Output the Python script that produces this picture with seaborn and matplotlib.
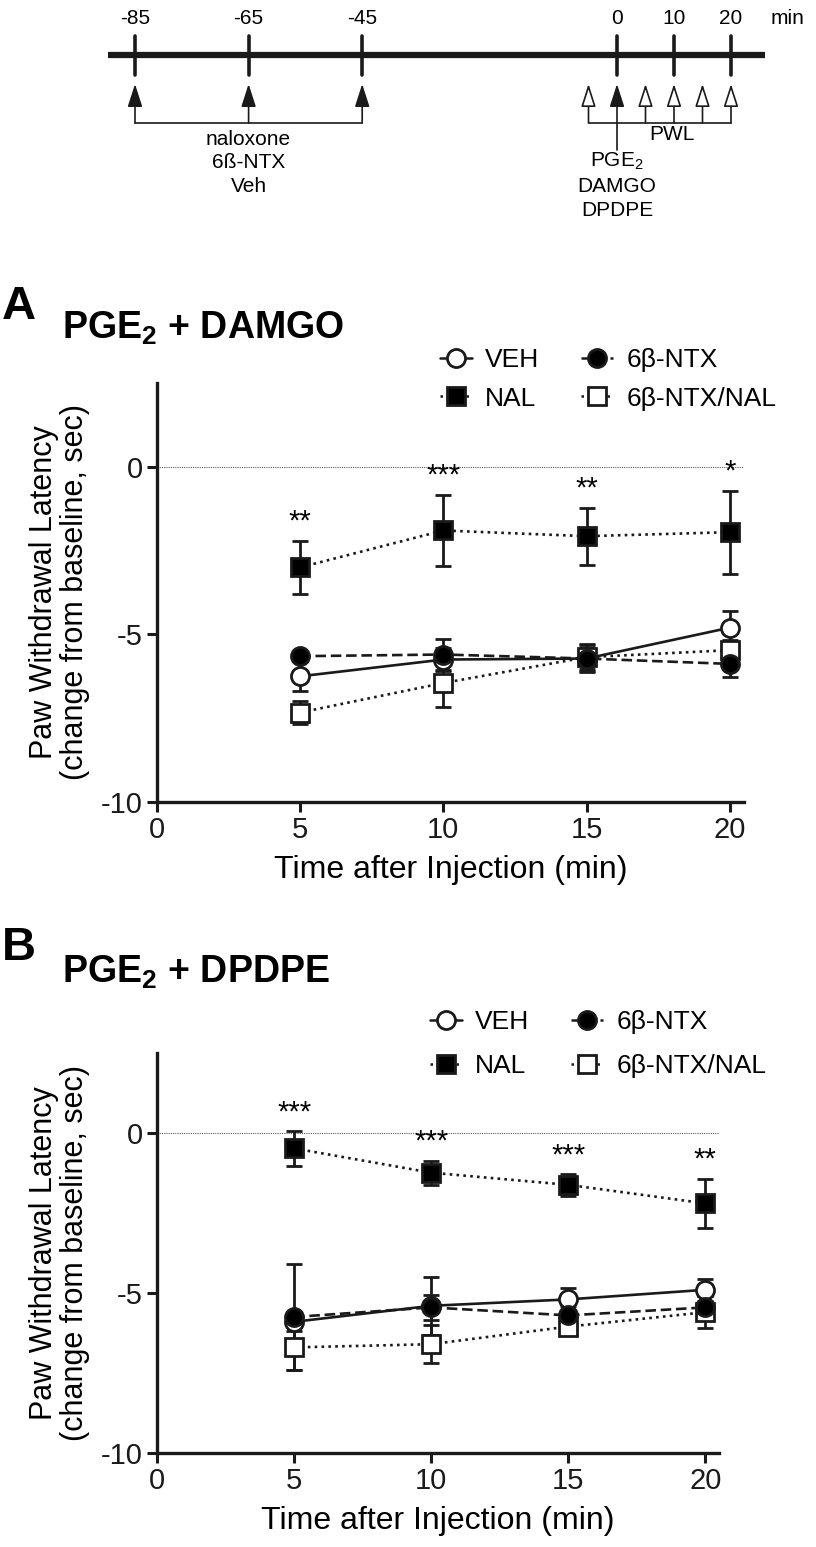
import numpy as np
import pandas as pd
import matplotlib
matplotlib.use('Agg')
import matplotlib.pyplot as plt
from matplotlib.lines import Line2D
import seaborn as sns

# ---- data -------------------------------------------------------------
times = [5, 10, 15, 20]

# panel A: PGE2 + DAMGO
a_veh = [-6.25, -5.75, -5.72, -4.80]
a_veh_err = [0.45, 0.35, 0.30, 0.50]
a_nal = [-3.00, -1.90, -2.07, -1.95]
a_nal_err = [0.80, 1.06, 0.85, 1.24]
a_ntx = [-5.65, -5.60, -5.72, -5.88]
a_ntx_err = [0.15, 0.45, 0.40, 0.40]
a_ntxnal = [-7.33, -6.45, -5.68, -5.47]
a_ntxnal_err = [0.35, 0.72, 0.40, 0.30]
a_stars = ['**', '***', '**', '*']

# panel B: PGE2 + DPDPE
b_veh = [-5.90, -5.40, -5.20, -4.90]
b_veh_err = [0.30, 0.90, 0.35, 0.35]
b_nal = [-0.48, -1.24, -1.62, -2.20]
b_nal_err = [0.54, 0.38, 0.34, 0.77]
b_ntx = [-5.75, -5.45, -5.70, -5.45]
b_ntx_err = [1.65, 0.40, 0.30, 0.35]
b_ntxnal = [-6.70, -6.60, -6.05, -5.60]
b_ntxnal_err = [0.70, 0.60, 0.25, 0.50]
b_stars = ['***', '***', '***', '**']

labels = ['VEH', 'NAL', '6β-NTX', '6β-NTX/NAL']
draw_order = ['VEH', '6β-NTX/NAL', '6β-NTX', 'NAL']

# timeline schematic
tl_marks = [-85, -65, -45, 0, 10, 20]
pre_arrows = [-85, -65, -45]
pwl_arrows = [-5, 5, 10, 15, 20]

# ---- style ------------------------------------------------------------
sns.set_theme(style='ticks')
plt.rcParams['font.family'] = ['Liberation Sans', 'DejaVu Sans']
plt.rcParams['mathtext.fontset'] = 'custom'
plt.rcParams['mathtext.rm'] = 'Liberation Sans'
plt.rcParams['mathtext.bf'] = 'Liberation Sans:bold'
plt.rcParams['text.color'] = 'black'
plt.rcParams['axes.labelcolor'] = 'black'

DOT = (0, (1, 1.6))
DASH = (0, (4, 1.8))
styles = {
    'VEH': dict(linestyle='-', marker='o', mfc='white'),
    'NAL': dict(linestyle=DOT, marker='s', mfc='black'),
    '6β-NTX': dict(linestyle=DASH, marker='o', mfc='black'),
    '6β-NTX/NAL': dict(linestyle=DOT, marker='s', mfc='white'),
}

W, H = 816, 1547
fig = plt.figure(figsize=(W / 100, H / 100), dpi=100)


def fx(px):
    return px / W


def fy(py):
    return 1 - py / H


# ---- timeline ---------------------------------------------------------
ax_t = fig.add_axes([0, fy(225), 1, 225 / H])
ax_t.set_xlim(0, W)
ax_t.set_ylim(225, 0)
ax_t.axis('off')


def tpos(t):
    return 135 + (t + 85) * 5.68 if t <= -45 else 617 + t * 5.7


ax_t.plot([108, 765], [55, 55], color='k', lw=4.5, solid_capstyle='butt')
for t in tl_marks:
    ax_t.plot([tpos(t), tpos(t)], [36, 75], color='k', lw=2.6)
    ax_t.text(tpos(t), 18, str(t), ha='center', va='center', fontsize=15)
ax_t.text(787, 18, 'min', ha='center', va='center', fontsize=15)


def up_arrow(x, y0, filled):
    ax_t.annotate('', xy=(x, 84), xytext=(x, y0),
                  arrowprops=dict(arrowstyle='-|>,head_length=1.4,head_width=0.45',
                                  fc='k' if filled else 'white', ec='k', lw=1.2,
                                  mutation_scale=10, shrinkA=0, shrinkB=0))


for t in pre_arrows:
    up_arrow(tpos(t), 123, True)
ax_t.plot([tpos(-85), tpos(-45)], [123, 123], color='k', lw=1.2)
for t in pwl_arrows:
    up_arrow(tpos(t), 123, False)
ax_t.plot([tpos(-5), tpos(20)], [123, 123], color='k', lw=1.2)
up_arrow(tpos(0), 150, True)

ax_t.text(tpos(-65), 130, 'naloxone\n6ß-NTX\nVeh', ha='center', va='top',
          fontsize=15, linespacing=1.3)
ax_t.text(tpos(10) - 2, 125, 'PWL', ha='center', va='top', fontsize=15)
ax_t.text(tpos(0), 150, 'PGE$_2$', ha='center', va='top', fontsize=15)
ax_t.text(tpos(0), 177, 'DAMGO\nDPDPE', ha='center', va='top', fontsize=15,
          linespacing=1.3)


# ---- panels -----------------------------------------------------------
def panel(ax, series, stars):
    ax.axhline(0, color='0.35', lw=0.8, ls=(0, (1, 1)), zorder=1)
    for name in draw_order:
        mean, err = series[name]
        ax.errorbar(times, mean, yerr=err, fmt='none', ecolor='k',
                    elinewidth=2, capsize=6, capthick=2, zorder=2)
    for name in draw_order:
        mean, err = series[name]
        st = styles[name]
        sns.lineplot(x=times, y=mean, ax=ax, color='k', lw=1.9,
                     linestyle=st['linestyle'], marker=st['marker'],
                     markersize=13, mfc=st['mfc'], mec='k', mew=2, zorder=3)
    nal, nal_err = series['NAL']
    for t, m, e, s in zip(times, nal, nal_err, stars):
        ax.text(t, m + e + 0.15, s, ha='center', va='bottom', fontsize=21)

    ax.set_xlim(0, 20.5)
    ax.set_ylim(-10, 2.5)
    ax.set_xticks([0, 5, 10, 15, 20])
    ax.set_yticks([-10, -5, 0])
    ax.set_yticklabels(['-10', '-5', '0'])
    for s in ['top', 'right']:
        ax.spines[s].set_visible(False)
    for s in ['left', 'bottom']:
        ax.spines[s].set_linewidth(2.4)
        ax.spines[s].set_color('k')
    ax.tick_params(axis='both', length=7, width=2.2, labelsize=21,
                   color='k', labelcolor='k', pad=3)
    ax.set_xlabel('Time after Injection (min)', fontsize=23, labelpad=8)
    ax.set_ylabel('Paw Withdrawal Latency\n(change from baseline, sec)',
                  fontsize=22, labelpad=8, linespacing=1.05)
    ax.grid(False)


def legend(ax, x, y, spacing):
    handles = []
    for name in labels:
        st = styles[name]
        handles.append(Line2D([], [], color='k', lw=1.8, linestyle=st['linestyle'],
                              marker=st['marker'], markersize=13, mfc=st['mfc'],
                              mec='k', mew=2))
    ax.legend(handles, labels, ncol=2, loc='upper left',
              bbox_to_anchor=(fx(x), fy(y)), bbox_transform=fig.transFigure,
              frameon=False, fontsize=19, handlelength=1.2, handletextpad=0.5,
              columnspacing=1.6, labelspacing=spacing, borderaxespad=0,
              borderpad=0)


ax_a = fig.add_axes([fx(157), fy(802), fx(744 - 157), (802 - 383) / H])
panel(ax_a, {'VEH': (a_veh, a_veh_err), 'NAL': (a_nal, a_nal_err),
             '6β-NTX': (a_ntx, a_ntx_err),
             '6β-NTX/NAL': (a_ntxnal, a_ntxnal_err)}, a_stars)
legend(ax_a, 440, 348, 0.55)

ax_b = fig.add_axes([fx(157), fy(1453), fx(719 - 157), (1453 - 1053) / H])
panel(ax_b, {'VEH': (b_veh, b_veh_err), 'NAL': (b_nal, b_nal_err),
             '6β-NTX': (b_ntx, b_ntx_err),
             '6β-NTX/NAL': (b_ntxnal, b_ntxnal_err)}, b_stars)
legend(ax_b, 430, 1010, 0.75)

# panel letters and titles
fig.text(fx(2), fy(307), 'A', fontsize=34, fontweight='bold', va='center')
fig.text(fx(62), fy(328), r'PGE$_\mathbf{2}$ + DAMGO', fontsize=27,
         fontweight='bold', va='center')
fig.text(fx(2), fy(948), 'B', fontsize=34, fontweight='bold', va='center')
fig.text(fx(62), fy(972), r'PGE$_\mathbf{2}$ + DPDPE', fontsize=27,
         fontweight='bold', va='center')

fig.savefig('out.png', dpi=100)
